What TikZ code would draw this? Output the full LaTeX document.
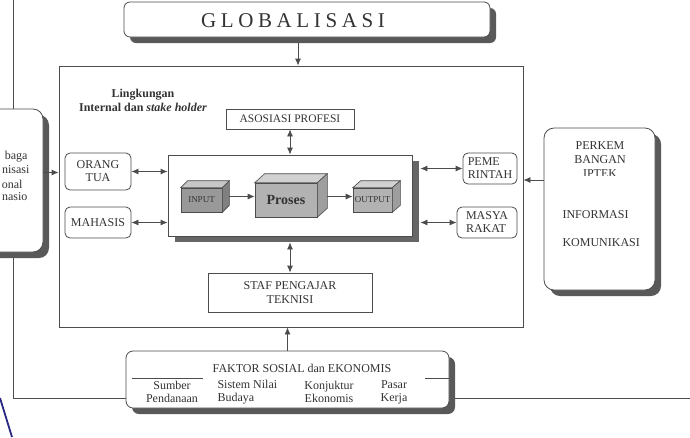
\documentclass[tikz,border=0pt]{standalone}
\usepackage{fontspec}
\setmainfont{Liberation Serif}
\usetikzlibrary{shadows, arrows.meta}
\definecolor{penblue}{RGB}{40,40,130}

\begin{document}
\begin{tikzpicture}[
  x=1pt, y=-1pt,
  >={Latex[length=7pt,width=6pt]},
  every node/.style={text=black!80, font=\fontsize{12}{13}\selectfont},
  link/.style={draw=black!70, line width=0.8pt},
  plain/.style={draw=black!70, line width=0.8pt, fill=white, inner sep=0pt, align=center},
  softbox/.style={plain, rounded corners=5pt},
  bigbox/.style={plain, rounded corners=9pt, general shadow={fill=black!65, shadow xshift=6pt, shadow yshift=-6pt}},
  cubefront/.style={draw=black!70, line width=0.6pt, fill=black!40, inner sep=0pt, font=\fontsize{9}{9}\selectfont},
  cubetop/.style={draw=black!70, line width=0.6pt, fill=black!22},
  cubeside/.style={draw=black!70, line width=0.6pt, fill=black!50}
]
  \useasboundingbox (0,0) rectangle (690,437);
  \clip (0,0) rectangle (690,437);

  % outer frame and pen stroke
  \draw[link] (13,0) -- (13,398) -- (690,398);
  \draw[draw=penblue, line width=1.8pt] (0,398) -- (12,437);

  \node[bigbox, rounded corners=6pt, minimum width=366pt, minimum height=35pt] (glob) at (307,19.5) {};
  \node[font=\fontsize{21}{21}\selectfont\addfontfeature{LetterSpace=22}] (globtitle) at (293,21) {GLOBALISASI};

  \node[draw=black!70, line width=0.8pt, minimum width=464pt, minimum height=261pt] (main) at (291,196.5) {};
  \node[font=\bfseries\fontsize{12}{14}\selectfont, align=center] (ling) at (143,100) {Lingkungan\\Internal dan \textit{stake holder}};
  \draw[->, link] ([shift={(-9pt,-6pt)}]glob.south) -- ([xshift=-9pt]glob.south |- main.north);

  \node[plain, minimum width=128pt, minimum height=20pt, font=\fontsize{11.5}{12}\selectfont] (asos) at (290,119) {ASOSIASI PROFESI};

  % process block
  \node[plain, minimum width=244pt, minimum height=81pt, general shadow={fill=black!60, shadow xshift=7pt, shadow yshift=-6pt}] (proc) at (290,195.5) {};

  \node[cubefront, minimum width=41pt, minimum height=24pt] (input) at (201.5,200) {INPUT};
  \draw[cubetop] (input.north west) -- ([shift={(7pt,7pt)}]input.north west) -- ([shift={(7pt,7pt)}]input.north east) -- (input.north east) -- cycle;
  \draw[cubeside] (input.north east) -- ([shift={(7pt,7pt)}]input.north east) -- ([shift={(7pt,7pt)}]input.south east) -- (input.south east) -- cycle;

  \node[cubefront, fill=black!30, minimum width=62pt, minimum height=34pt, font=\bfseries\fontsize{14}{14}\selectfont] (proses) at (286,200) {Proses};
  \draw[cubetop, fill=black!18] (proses.north west) -- ([shift={(10pt,9pt)}]proses.north west) -- ([shift={(10pt,9pt)}]proses.north east) -- (proses.north east) -- cycle;
  \draw[cubeside, fill=black!38] (proses.north east) -- ([shift={(10pt,9pt)}]proses.north east) -- ([shift={(10pt,9pt)}]proses.south east) -- (proses.south east) -- cycle;

  \node[cubefront, fill=black!30, minimum width=39pt, minimum height=24pt] (output) at (372.5,200) {OUTPUT};
  \draw[cubetop, fill=black!18] (output.north west) -- ([shift={(8pt,7pt)}]output.north west) -- ([shift={(8pt,7pt)}]output.north east) -- (output.north east) -- cycle;
  \draw[cubeside, fill=black!38] (output.north east) -- ([shift={(8pt,7pt)}]output.north east) -- ([shift={(8pt,7pt)}]output.south east) -- (output.south east) -- cycle;

  \draw[->, link] ([shift={(7pt,3.5pt)}]input.east) -- ([yshift=3.5pt]proses.west);
  \draw[->, link] ([shift={(10pt,3.5pt)}]proses.east) -- ([yshift=3.5pt]output.west);

  % stake holders
  \node[softbox, minimum width=66pt, minimum height=37pt] (orang) at (98,171.5) {ORANG\\TUA};
  \node[softbox, minimum width=66pt, minimum height=31pt] (mhs) at (98,222.5) {MAHASIS};
  \node[softbox, minimum width=54pt, minimum height=31pt, align=left] (peme) at (490,168.5) {PEME\\RINTAH};
  \node[softbox, minimum width=60pt, minimum height=31pt, align=left] (masya) at (487,222.5) {MASYA\\RAKAT};
  \node[plain, minimum width=164pt, minimum height=39pt, font=\fontsize{12}{14}\selectfont] (staf) at (290,292.5) {STAF PENGAJAR\\TEKNISI};

  \coordinate (procR) at ([xshift=8pt]proc.east);
  \draw[<->, link] (orang) -- (orang -| proc.west);
  \draw[<->, link] (mhs) -- (mhs -| proc.west);
  \draw[<->, link] (procR |- peme) -- (peme);
  \draw[<->, link] (procR |- masya) -- (masya);
  \draw[<->, link] (asos) -- (proc);
  \draw[<->, link] ([yshift=-6pt]proc.south) -- (staf);

  % right block
  \node[bigbox, rounded corners=10pt, minimum width=111pt, minimum height=162pt] (perkem) at (599.5,209) {};
  \node[align=center, font=\fontsize{12}{14}\selectfont] (perkemtxt) at (600,153) {PERKEM\\BANGAN};
  \begin{scope}
    \clip (550,160) rectangle (650,175.5);
    \node (iptek) at (600,174) {IPTEK};
  \end{scope}
  \node[anchor=west] (info) at (559,215) {INFORMASI};
  \node[anchor=west] (komu) at (559,243) {KOMUNIKASI};
  \coordinate (pk) at ([yshift=29pt]perkem.west);
  \draw[->, link] (pk) -- (pk -| main.east);

  % left block
  \node[bigbox, rounded corners=10pt, minimum width=123pt, minimum height=143pt] (lembaga) at (-18.5,180.5) {};
  \node[anchor=east] (lb1) at (31,157) {baga};
  \node[anchor=east] (lb2) at (33,170) {nisasi};
  \node[anchor=east] (lb3) at (26,184) {onal};
  \node[anchor=east] (lb4) at (31,197) {nasio};
  \coordinate (lm) at ([yshift=8pt]lembaga.east);
  \draw[->, link] (lm) -- (lm -| main.west);

  % bottom block
  \node[bigbox, rounded corners=7pt, minimum width=323pt, minimum height=57pt] (faktor) at (287.5,379.5) {};
  \node (faktortxt) at (302,368) {FAKTOR SOSIAL dan EKONOMIS};
  \draw[link] (132,378) -- (203,378);
  \draw[link] (425,378) -- (449,378);
  \node[align=center] (sumber) at (172,392) {Sumber\\Pendanaan};
  \node[align=left, anchor=west] (nilai) at (214,392) {Sistem Nilai\\Budaya};
  \node[align=center] (konj) at (329,392) {Konjuktur\\Ekonomis};
  \node[align=center] (pasar) at (394,392) {Pasar\\Kerja};
  \draw[->, link] (faktor.north) -- (faktor.north |- main.south);
\end{tikzpicture}
\end{document}
